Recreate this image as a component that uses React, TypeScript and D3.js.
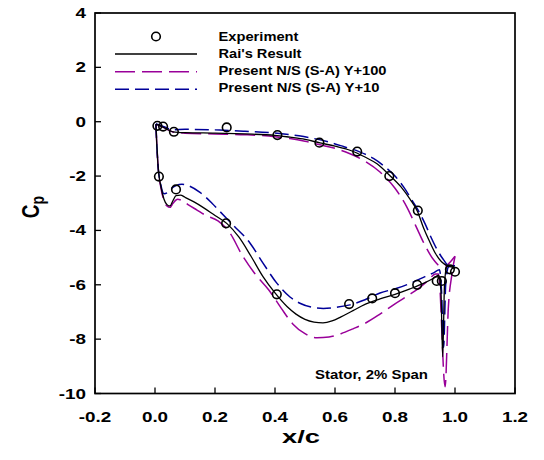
import React from "react";
import * as d3 from "d3";

// Experiment data
const expX = [0.008, 0.027, 0.063, 0.239, 0.408, 0.548, 0.674, 0.781, 0.876, 0.013, 0.07, 0.237, 0.406, 0.647, 0.724, 0.8, 0.874, 0.939, 0.956, 0.983, 1.0];
const expY = [-0.15, -0.18, -0.37, -0.21, -0.49, -0.77, -1.1, -2.0, -3.27, -2.02, -2.49, -3.74, -6.35, -6.71, -6.5, -6.31, -6.0, -5.86, -5.86, -5.43, -5.52];

// Rai's result (black)
const raiUpperX = [0.003, 0.01, 0.03, 0.06, 0.1, 0.2, 0.3, 0.4, 0.45, 0.5, 0.55, 0.6, 0.65, 0.7, 0.74, 0.78, 0.82, 0.85, 0.875, 0.895, 0.915, 0.935, 0.955, 0.975, 0.99, 1.0];
const raiUpperY = [-0.1, -0.12, -0.22, -0.37, -0.4, -0.42, -0.45, -0.5, -0.57, -0.65, -0.78, -0.9, -1.05, -1.3, -1.55, -1.95, -2.4, -2.85, -3.3, -3.9, -4.4, -4.85, -5.15, -5.3, -5.35, -5.4];
const raiLowerX = [0.003, 0.005, 0.01, 0.02, 0.03, 0.04, 0.05, 0.06, 0.07, 0.085, 0.1, 0.13, 0.16, 0.2, 0.24, 0.28, 0.32, 0.36, 0.4, 0.44, 0.47, 0.5, 0.53, 0.56, 0.59, 0.62, 0.66, 0.7, 0.75, 0.8, 0.85, 0.9, 0.93, 0.945, 0.953, 0.959, 0.965, 0.972, 0.98, 0.99, 1.0];
const raiLowerY = [-0.1, -0.6, -1.6, -2.4, -2.85, -3.05, -3.1, -2.9, -2.72, -2.7, -2.78, -2.95, -3.15, -3.45, -3.75, -4.25, -4.95, -5.7, -6.3, -6.8, -7.08, -7.27, -7.37, -7.4, -7.33, -7.18, -6.95, -6.72, -6.52, -6.35, -6.15, -5.92, -5.75, -5.65, -6.2, -8.65, -6.0, -5.35, -5.3, -5.3, -5.4];

// Present N/S (S-A) Y+100 (purple)
const p100UpperX = [0.003, 0.01, 0.03, 0.06, 0.1, 0.2, 0.3, 0.4, 0.45, 0.5, 0.55, 0.6, 0.65, 0.7, 0.75, 0.8, 0.84, 0.87, 0.9, 0.93, 0.95, 0.97, 0.985, 1.0];
const p100UpperY = [-0.1, -0.12, -0.22, -0.38, -0.42, -0.45, -0.48, -0.55, -0.62, -0.72, -0.85, -0.98, -1.18, -1.45, -1.85, -2.45, -3.15, -3.85, -4.55, -5.1, -5.3, -5.3, -5.15, -4.95];
const p100LowerX = [0.003, 0.005, 0.01, 0.02, 0.03, 0.04, 0.05, 0.06, 0.075, 0.09, 0.11, 0.14, 0.17, 0.21, 0.25, 0.29, 0.33, 0.38, 0.42, 0.46, 0.5, 0.54, 0.58, 0.62, 0.66, 0.7, 0.75, 0.8, 0.85, 0.88, 0.91, 0.935, 0.945, 0.967, 0.978, 0.99, 1.0];
const p100LowerY = [-0.1, -0.6, -1.6, -2.45, -2.9, -3.1, -3.15, -3.0, -2.85, -2.9, -3.05, -3.25, -3.45, -3.65, -4.1, -4.9, -5.55, -6.2, -6.85, -7.45, -7.8, -7.95, -7.92, -7.8, -7.62, -7.42, -7.08, -6.7, -6.35, -6.12, -5.85, -5.6, -5.6, -9.75, -6.8, -5.6, -4.95];

// Present N/S (S-A) Y+10 (blue)
const p10UpperX = [0.003, 0.01, 0.03, 0.06, 0.1, 0.2, 0.3, 0.38, 0.43, 0.48, 0.53, 0.58, 0.63, 0.68, 0.728, 0.76, 0.8, 0.828, 0.86, 0.883, 0.9, 0.92, 0.94, 0.96, 0.98, 1.0];
const p10UpperY = [-0.08, -0.1, -0.18, -0.3, -0.28, -0.3, -0.35, -0.4, -0.45, -0.52, -0.62, -0.75, -0.92, -1.1, -1.35, -1.6, -2.0, -2.39, -2.95, -3.37, -3.75, -4.25, -4.7, -5.05, -5.3, -5.3];
const p10LowerX = [0.003, 0.005, 0.01, 0.02, 0.03, 0.04, 0.055, 0.07, 0.09, 0.11, 0.15, 0.19, 0.217, 0.26, 0.317, 0.36, 0.406, 0.45, 0.483, 0.52, 0.561, 0.61, 0.65, 0.7, 0.75, 0.806, 0.85, 0.9, 0.93, 0.948, 0.955, 0.962, 0.969, 0.978, 0.99, 1.0];
const p10LowerY = [-0.08, -0.6, -1.6, -2.35, -2.65, -2.62, -2.45, -2.35, -2.3, -2.35, -2.6, -3.0, -3.31, -3.8, -4.47, -5.2, -5.94, -6.45, -6.68, -6.82, -6.87, -6.82, -6.74, -6.55, -6.3, -6.13, -5.95, -5.7, -5.55, -5.45, -6.2, -8.3, -6.0, -5.35, -5.3, -5.3];

const xTicks = [-0.2, 0.0, 0.2, 0.4, 0.6, 0.8, 1.0, 1.2];
const yTicks = [4, 2, 0, -2, -4, -6, -8, -10];

const legendLabels = ["Experiment", "Rai's Result", "Present N/S (S-A) Y+100", "Present N/S (S-A) Y+10"];

const FONT = "Arial, 'Liberation Sans', sans-serif";

export default function App() {
  const x = d3.scaleLinear().domain([-0.2, 1.2]).range([95, 515]);
  const y = d3.scaleLinear().domain([-10, 4]).range([393.5, 13]);

  const mk = (xs: number[], ys: number[]) =>
    d3
      .line<number>()
      .x((_, i) => x(xs[i]))
      .y((_, i) => y(ys[i]))
      .curve(d3.curveMonotoneX)(xs) || "";

  const series = [
    { ux: p100UpperX, uy: p100UpperY, lx: p100LowerX, ly: p100LowerY, color: "#990099", dash: "20 7", w: 1.5 },
    { ux: p10UpperX, uy: p10UpperY, lx: p10LowerX, ly: p10LowerY, color: "#000099", dash: "14 6", w: 1.5 },
    { ux: raiUpperX, uy: raiUpperY, lx: raiLowerX, ly: raiLowerY, color: "#000000", dash: undefined, w: 1.3 },
  ];

  const legendWidths = [80, 83, 168, 161];
  const legendBase = [40.5, 57.8, 75.1, 92.4];

  return (
    <svg width={544} height={460} style={{ position: "absolute", left: 0, top: 0, background: "#fff" }}>
      <rect x={0} y={0} width={544} height={460} fill="#fff" />
      {series.map((s, i) => (
        <g key={i} fill="none" stroke={s.color} strokeWidth={s.w} strokeDasharray={s.dash}>
          <path d={mk(s.ux, s.uy)} />
          <path d={mk(s.lx, s.ly)} />
        </g>
      ))}
      {expX.map((v, i) => (
        <circle key={i} cx={x(v)} cy={y(expY[i])} r={4.3} fill="none" stroke="#000" strokeWidth={1.6} />
      ))}
      <rect x={95} y={13} width={420} height={380.5} fill="none" stroke="#000" strokeWidth={1.7} />
      {xTicks.map((t) => (
        <g key={"x" + t}>
          <line x1={x(t)} x2={x(t)} y1={393.5} y2={387.5} stroke="#000" strokeWidth={1.3} />
          <text
            transform={`translate(${x(t)},422) scale(1.3,1)`}
            textAnchor="middle"
            fontFamily={FONT}
            fontWeight="bold"
            fontSize={14.5}
          >
            {t.toFixed(1)}
          </text>
        </g>
      ))}
      {yTicks.map((t) => (
        <g key={"y" + t}>
          <line x1={95} x2={101} y1={y(t)} y2={y(t)} stroke="#000" strokeWidth={1.3} />
          <text
            transform={`translate(86,${y(t) + 5}) scale(1.3,1)`}
            textAnchor="end"
            fontFamily={FONT}
            fontWeight="bold"
            fontSize={14.5}
          >
            {t}
          </text>
        </g>
      ))}
      <text x={301} y={443} textAnchor="middle" fontFamily={FONT} fontWeight="bold" fontSize={19} textLength={38} lengthAdjust="spacingAndGlyphs">
        x/c
      </text>
      <text transform="translate(39,207) scale(1.3,1) rotate(-90)" textAnchor="middle" fontFamily={FONT} fontWeight="bold" fontSize={19}>
        C<tspan fontSize={14} dy={4}>p</tspan>
      </text>
      <text x={315} y={379} fontFamily={FONT} fontWeight="bold" fontSize={13} textLength={113} lengthAdjust="spacingAndGlyphs">
        Stator, 2% Span
      </text>
      <circle cx={156} cy={36.5} r={4.3} fill="none" stroke="#000" strokeWidth={1.6} />
      <line x1={115} x2={197} y1={54} y2={54} stroke="#000" strokeWidth={1.3} />
      <line x1={115} x2={197} y1={71.7} y2={71.7} stroke="#990099" strokeWidth={1.5} strokeDasharray="20 7" />
      <line x1={115} x2={197} y1={89.3} y2={89.3} stroke="#000099" strokeWidth={1.5} strokeDasharray="14 6" />
      {legendLabels.map((l, i) => (
        <text
          key={l}
          x={218.5}
          y={legendBase[i]}
          fontFamily={FONT}
          fontWeight="bold"
          fontSize={12.5}
          textLength={legendWidths[i]}
          lengthAdjust="spacingAndGlyphs"
        >
          {l}
        </text>
      ))}
    </svg>
  );
}
